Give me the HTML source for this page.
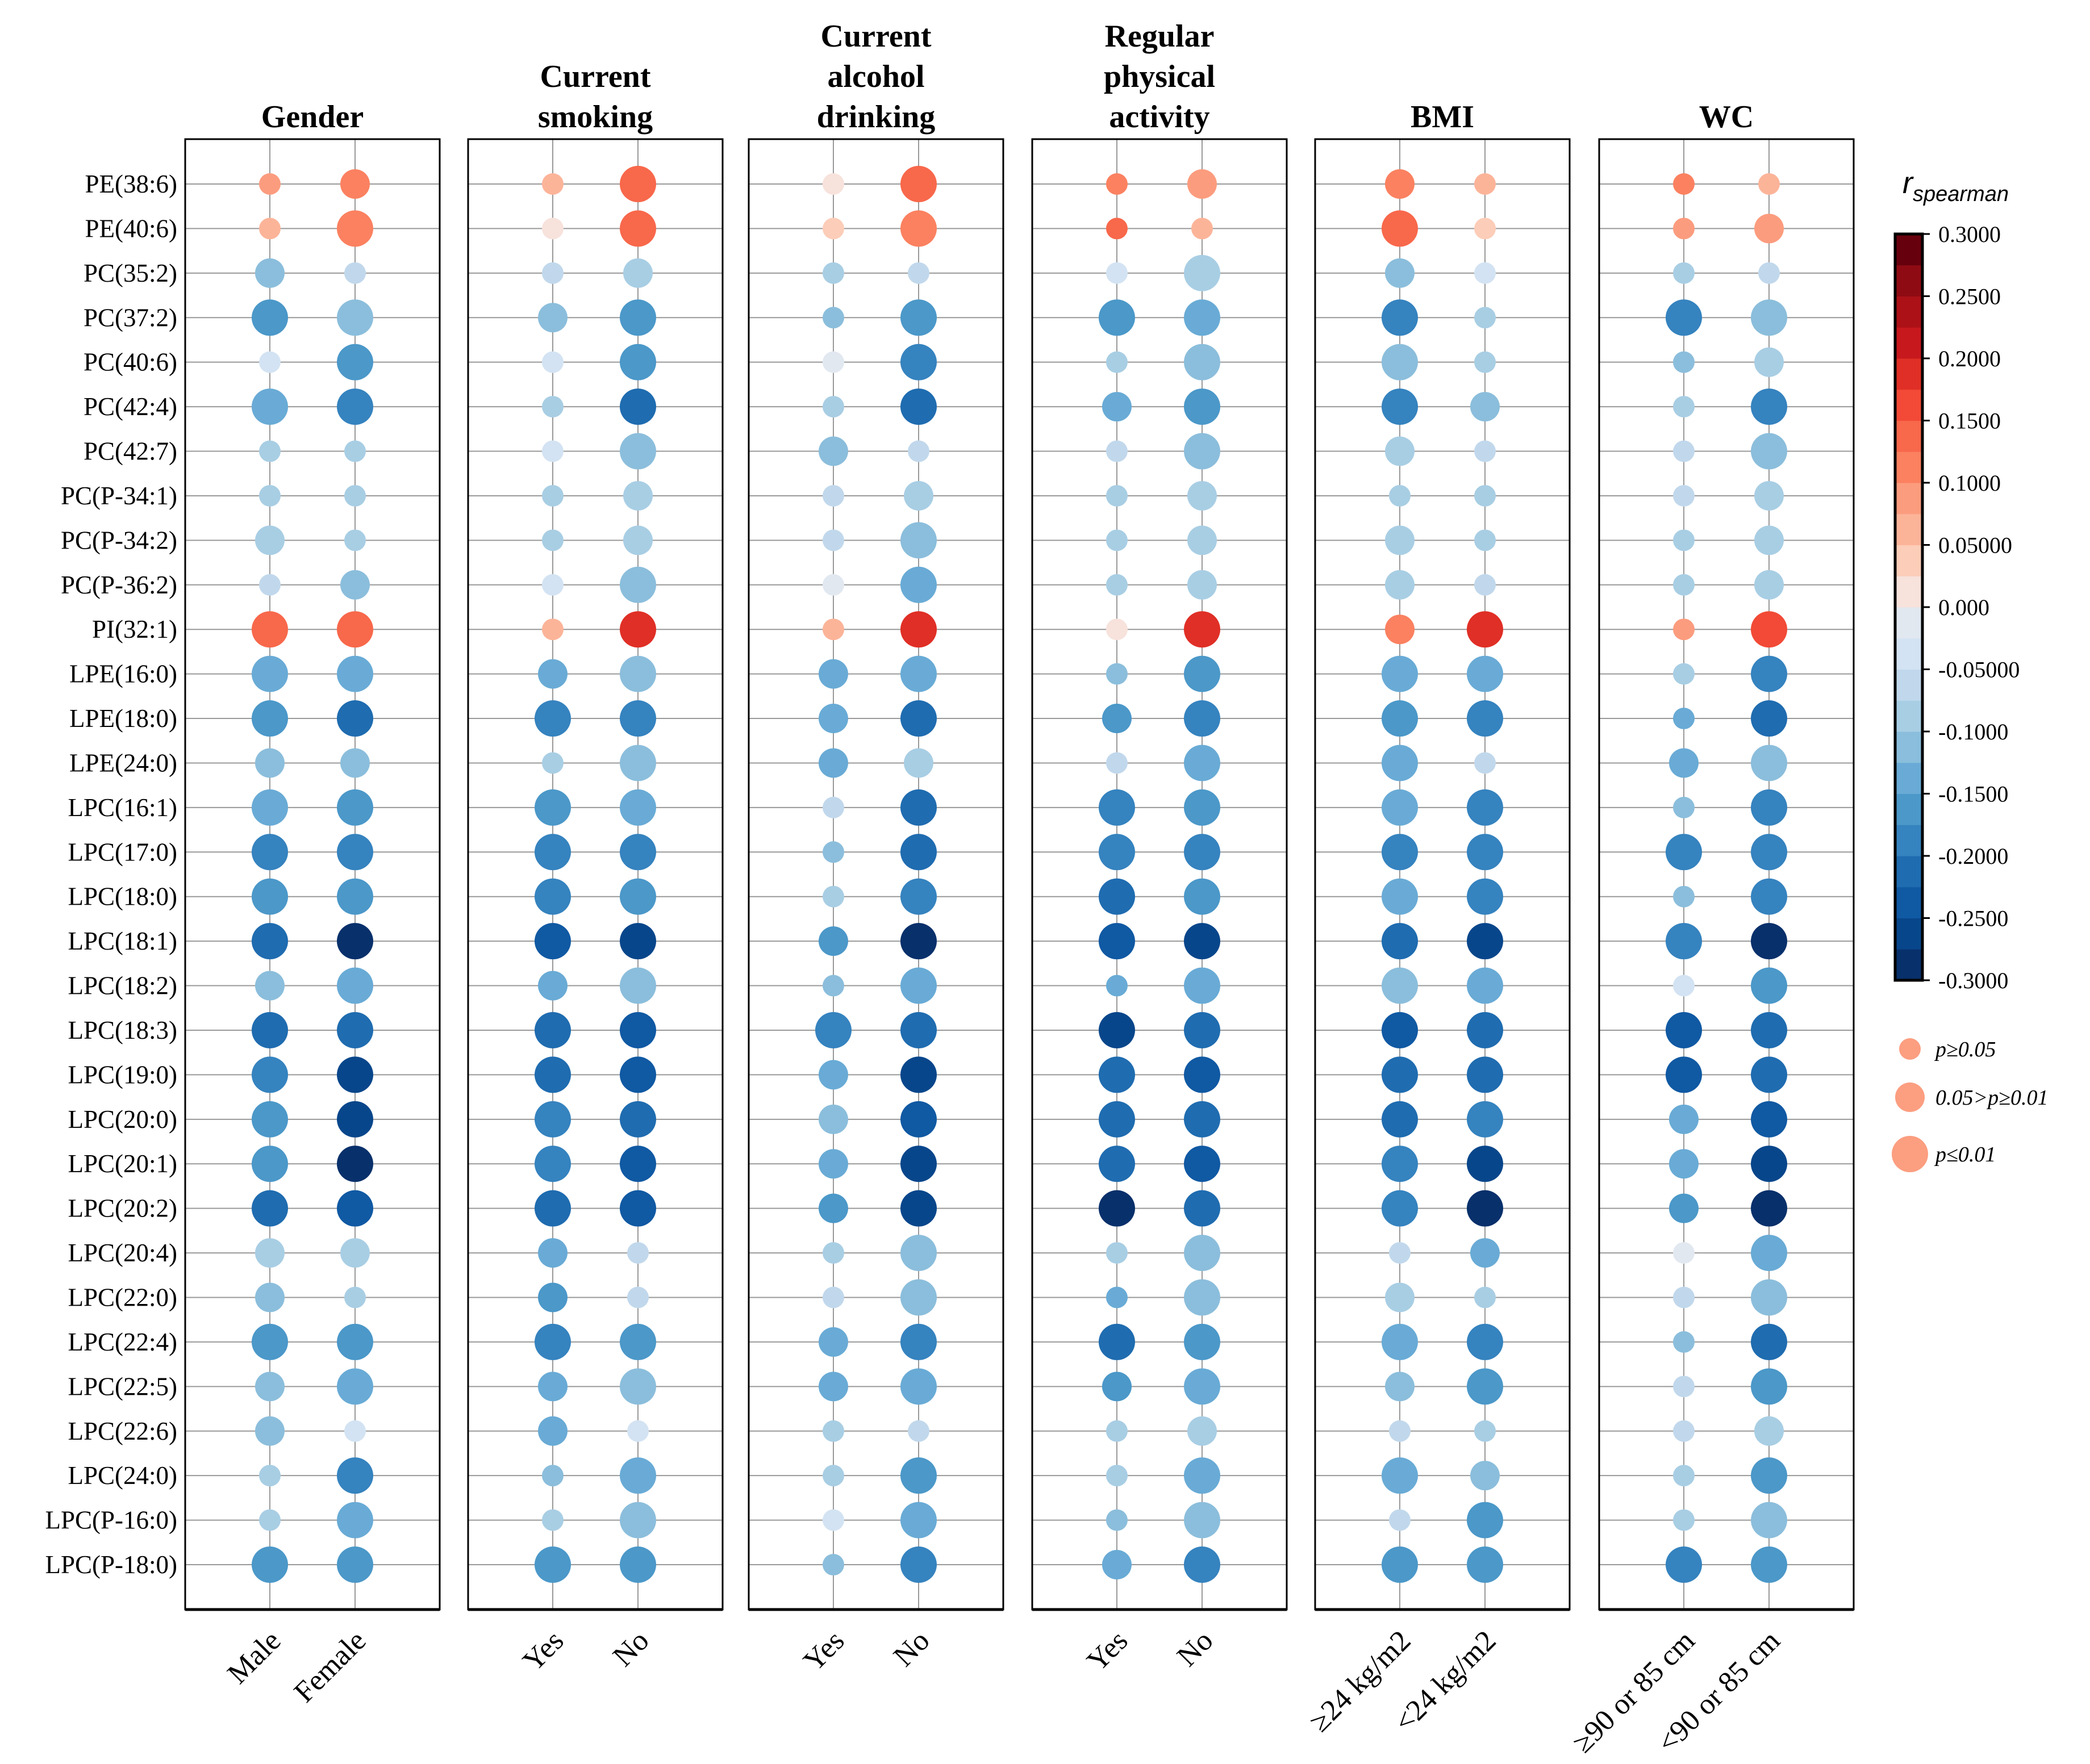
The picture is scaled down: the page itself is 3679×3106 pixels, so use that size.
<!DOCTYPE html>
<html><head><meta charset="utf-8"><style>
html,body{margin:0;padding:0;background:#fff;}
svg{display:block;font-family:"Liberation Serif",serif;}
</style></head><body>
<svg id="chart" width="3679" height="3106" viewBox="0 0 3679 3106" xmlns="http://www.w3.org/2000/svg"></svg>
<script>
const rowLabels = ["PE(38:6)","PE(40:6)","PC(35:2)","PC(37:2)","PC(40:6)","PC(42:4)","PC(42:7)","PC(P-34:1)","PC(P-34:2)","PC(P-36:2)","PI(32:1)","LPE(16:0)","LPE(18:0)","LPE(24:0)","LPC(16:1)","LPC(17:0)","LPC(18:0)","LPC(18:1)","LPC(18:2)","LPC(18:3)","LPC(19:0)","LPC(20:0)","LPC(20:1)","LPC(20:2)","LPC(20:4)","LPC(22:0)","LPC(22:4)","LPC(22:5)","LPC(22:6)","LPC(24:0)","LPC(P-16:0)","LPC(P-18:0)"];
const groupTitles = [["Gender"],["Current","smoking"],["Current","alcohol","drinking"],["Regular","physical","activity"],["BMI"],["WC"]];
const groupCats = [["Male","Female"],["Yes","No"],["Yes","No"],["Yes","No"],["≥24 kg/m2","<24 kg/m2"],["≥90 or 85 cm","<90 or 85 cm"]];
const colorTicks = [0.3,0.25,0.2,0.15,0.1,0.05,0,-0.05,-0.1,-0.15,-0.2,-0.25,-0.3];
const colorTickLabels = ["0.3000","0.2500","0.2000","0.1500","0.1000","0.05000","0.000","-0.05000","-0.1000","-0.1500","-0.2000","-0.2500","-0.3000"];
const pLegendLabels = ["p≥0.05","0.05>p≥0.01","p≤0.01"];

const rGender = [[.09,.11],[.06,.11],[-.11,-.06],[-.16,-.11],[-.04,-.16],[-.14,-.19],[-.09,-.09],[-.09,-.09],[-.09,-.09],[-.06,-.11],[.14,.14],[-.14,-.14],[-.16,-.21],[-.11,-.11],[-.14,-.16],[-.19,-.19],[-.16,-.16],[-.21,-.29],[-.11,-.14],[-.21,-.21],[-.19,-.26],[-.16,-.26],[-.16,-.29],[-.21,-.24],[-.09,-.09],[-.11,-.09],[-.16,-.16],[-.11,-.14],[-.11,-.04],[-.09,-.19],[-.09,-.14],[-.16,-.16]];
const pGender = [[1,2],[1,3],[2,1],[3,3],[1,3],[3,3],[1,1],[1,1],[2,1],[1,2],[3,3],[3,3],[3,3],[2,2],[3,3],[3,3],[3,3],[3,3],[2,3],[3,3],[3,3],[3,3],[3,3],[3,3],[2,2],[2,1],[3,3],[2,3],[2,1],[1,3],[1,3],[3,3]];
const rSmoking = [[.06,.14],[.01,.14],[-.06,-.09],[-.11,-.16],[-.04,-.16],[-.09,-.21],[-.04,-.11],[-.09,-.09],[-.09,-.09],[-.04,-.11],[.06,.19],[-.14,-.11],[-.19,-.19],[-.09,-.11],[-.16,-.14],[-.19,-.19],[-.19,-.16],[-.24,-.26],[-.14,-.11],[-.21,-.24],[-.21,-.24],[-.19,-.21],[-.19,-.24],[-.21,-.24],[-.14,-.06],[-.16,-.06],[-.19,-.16],[-.14,-.11],[-.14,-.04],[-.11,-.14],[-.09,-.11],[-.16,-.16]];
const pSmoking = [[1,3],[1,3],[1,2],[2,3],[1,3],[1,3],[1,3],[1,2],[1,2],[1,3],[1,3],[2,3],[3,3],[1,3],[3,3],[3,3],[3,3],[3,3],[2,3],[3,3],[3,3],[3,3],[3,3],[3,3],[2,1],[2,1],[3,3],[2,3],[2,1],[1,3],[1,3],[3,3]];
const rAlcohol = [[.01,.14],[.04,.11],[-.09,-.06],[-.11,-.16],[-.01,-.19],[-.09,-.21],[-.11,-.06],[-.06,-.09],[-.06,-.11],[-.01,-.14],[.06,.19],[-.14,-.14],[-.14,-.21],[-.14,-.09],[-.06,-.21],[-.11,-.21],[-.09,-.19],[-.16,-.29],[-.11,-.14],[-.19,-.21],[-.14,-.26],[-.11,-.24],[-.14,-.26],[-.16,-.26],[-.09,-.11],[-.06,-.11],[-.14,-.19],[-.14,-.14],[-.09,-.06],[-.09,-.16],[-.04,-.14],[-.11,-.19]];
const pAlcohol = [[1,3],[1,3],[1,1],[1,3],[1,3],[1,3],[2,1],[1,2],[1,3],[1,3],[1,3],[2,3],[2,3],[2,2],[1,3],[1,3],[1,3],[2,3],[1,3],[3,3],[2,3],[2,3],[2,3],[2,3],[1,3],[1,3],[2,3],[2,3],[1,1],[1,3],[1,3],[1,3]];
const rActivity = [[.11,.09],[.14,.06],[-.04,-.09],[-.16,-.14],[-.09,-.11],[-.14,-.16],[-.06,-.11],[-.09,-.09],[-.09,-.09],[-.09,-.09],[.01,.19],[-.11,-.16],[-.16,-.19],[-.06,-.14],[-.19,-.16],[-.19,-.19],[-.21,-.16],[-.24,-.26],[-.14,-.14],[-.26,-.21],[-.21,-.24],[-.21,-.21],[-.21,-.24],[-.29,-.21],[-.09,-.11],[-.14,-.11],[-.21,-.16],[-.16,-.14],[-.09,-.09],[-.09,-.14],[-.11,-.11],[-.14,-.19]];
const pActivity = [[1,2],[1,1],[1,3],[3,3],[1,3],[2,3],[1,3],[1,2],[1,2],[1,2],[1,3],[1,3],[2,3],[1,3],[3,3],[3,3],[3,3],[3,3],[1,3],[3,3],[3,3],[3,3],[3,3],[3,3],[1,3],[1,3],[3,3],[2,3],[1,2],[1,3],[1,3],[2,3]];
const rBMI = [[.11,.06],[.14,.04],[-.11,-.04],[-.19,-.09],[-.11,-.09],[-.19,-.11],[-.09,-.06],[-.09,-.09],[-.09,-.09],[-.09,-.06],[.11,.19],[-.14,-.14],[-.16,-.19],[-.14,-.06],[-.14,-.19],[-.19,-.19],[-.14,-.19],[-.21,-.26],[-.11,-.14],[-.24,-.21],[-.21,-.21],[-.21,-.19],[-.19,-.26],[-.19,-.29],[-.06,-.14],[-.09,-.09],[-.14,-.19],[-.11,-.16],[-.06,-.09],[-.14,-.11],[-.06,-.16],[-.16,-.16]];
const pBMI = [[2,1],[3,1],[2,1],[3,1],[3,1],[3,2],[2,1],[1,1],[2,1],[2,1],[2,3],[3,3],[3,3],[3,1],[3,3],[3,3],[3,3],[3,3],[3,3],[3,3],[3,3],[3,3],[3,3],[3,3],[1,2],[2,1],[3,3],[2,3],[1,1],[3,2],[1,3],[3,3]];
const rWC = [[.11,.06],[.09,.09],[-.09,-.06],[-.19,-.11],[-.11,-.09],[-.09,-.19],[-.06,-.11],[-.06,-.09],[-.09,-.09],[-.09,-.09],[.09,.16],[-.09,-.19],[-.14,-.21],[-.14,-.11],[-.11,-.19],[-.19,-.19],[-.11,-.19],[-.19,-.29],[-.04,-.16],[-.24,-.21],[-.24,-.21],[-.14,-.24],[-.14,-.26],[-.16,-.29],[-.01,-.14],[-.06,-.11],[-.11,-.21],[-.06,-.16],[-.06,-.09],[-.09,-.16],[-.09,-.11],[-.19,-.16]];
const pWC = [[1,1],[1,2],[1,1],[3,3],[1,2],[1,3],[1,3],[1,2],[1,2],[1,2],[1,3],[1,3],[1,3],[2,3],[1,3],[3,3],[1,3],[3,3],[1,3],[3,3],[3,3],[2,3],[2,3],[2,3],[1,3],[1,3],[1,3],[1,3],[1,2],[1,3],[1,3],[3,3]];

const rGroups = [rGender,rSmoking,rAlcohol,rActivity,rBMI,rWC];
const pGroups = [pGender,pSmoking,pAlcohol,pActivity,pBMI,pWC];

const palette = ["#08306b","#08468b","#1059a3","#1f6cb0","#3583bf","#4b98c9","#69abd6","#8bbedc","#a8cee4","#c1d8ec","#d3e3f3","#e2e8f0","#f7e2dc","#fccdb8","#fcb499","#fc9c7e","#fb8160","#f8684b","#f24a36","#e02f26","#c7181e","#ac1117","#8f0b14","#67000d"];
const NS = "http://www.w3.org/2000/svg";
const svg = document.getElementById("chart");
function mk(tag, attrs, parent){const e=document.createElementNS(NS,tag);for(const k in attrs)e.setAttribute(k,attrs[k]);(parent||svg).appendChild(e);return e;}
function colorOf(r){let k=Math.floor((r+0.3)/0.025);k=Math.max(0,Math.min(23,k));return palette[k];}
const sizeR = [0,19,26,32];
const rowY0 = 324, rowStep = 78.42;
function yScale(i){return rowY0 + i*rowStep;}
const panelLefts = [326,824,1318,1817,2315,2815];
const panelW = 448, panelTop = 245, panelBottom = 2834;
function xScale(g,j){return panelLefts[g] + 149 + j*150;}

rowLabels.forEach((lab,i)=>{
  const t = mk("text",{x:312,y:yScale(i)+15,"text-anchor":"end","font-size":45,fill:"#000"});
  
  
  t.textContent = lab;
});

for(let g=0; g<6; g++){
  const L = panelLefts[g];
  const grp = mk("g",{});
  
  
  rowLabels.forEach((_,i)=>{
    const l = mk("line",{x1:L,x2:L+panelW,y1:yScale(i),y2:yScale(i),stroke:"#999","stroke-width":2},grp);
    
    
  });
  for(let j=0;j<2;j++){
    const l = mk("line",{x1:xScale(g,j),x2:xScale(g,j),y1:panelTop,y2:panelBottom,stroke:"#999","stroke-width":2},grp);
    
    
  }
  rGroups[g].forEach((pair,i)=>{
    for(let j=0;j<2;j++){
      const c = mk("ellipse",{cx:xScale(g,j),cy:yScale(i),rx:sizeR[pGroups[g][i][j]],ry:sizeR[pGroups[g][i][j]],fill:colorOf(pair[j])},grp);
      
      
    }
  });
  const fr = mk("rect",{x:L,y:panelTop,width:panelW,height:panelBottom-panelTop,fill:"none",stroke:"#000","stroke-width":3},grp);
  
  
  const bl = mk("line",{x1:L,x2:L+panelW,y1:panelBottom,y2:panelBottom,stroke:"#000","stroke-width":5},grp);
  
  
  const lines = groupTitles[g];
  const cx = L + panelW/2;
  lines.forEach((ln,k)=>{
    const y = 224 - (lines.length-1-k)*71;
    const t = mk("text",{x:cx,y:y,"text-anchor":"middle","font-size":56,"font-weight":"bold",fill:"#000"});
    
    
    t.textContent = ln;
  });
  for(let j=0;j<2;j++){
    const ax = xScale(g,j)+22, ay = 2892;
    const t = mk("text",{x:ax,y:ay,"text-anchor":"end","font-size":52,fill:"#000",transform:`rotate(-45 ${ax} ${ay})`});
    
    
    t.textContent = groupCats[g][j];
  }
}

const cbX = 3336, cbW = 48, cbTop = 412, cbBot = 1726;
function cbY(v){return cbTop + (0.3 - v)/0.6*(cbBot-cbTop);}
const cb = mk("g",{});


palette.forEach((col,k)=>{
  const v0 = -0.3 + k*0.025;
  const r = mk("rect",{x:cbX,y:cbY(v0+0.025),width:cbW,height:cbY(v0)-cbY(v0+0.025)+0.5,fill:col},cb);
  
  
});
const cbf = mk("rect",{x:cbX,y:cbTop,width:cbW,height:cbBot-cbTop,fill:"none",stroke:"#000","stroke-width":5},cb);


colorTicks.forEach((v,k)=>{
  const l = mk("line",{x1:cbX+cbW,x2:cbX+cbW+13,y1:cbY(v),y2:cbY(v),stroke:"#000","stroke-width":3},cb);
  
  
  const t = mk("text",{x:3412,y:cbY(v)+14,"font-size":40,fill:"#000"},cb);
  
  
  t.textContent = colorTickLabels[k];
});
const ct = mk("text",{x:3349,y:340,"font-family":"Liberation Sans, sans-serif","font-style":"italic","font-size":54,fill:"#000"});


ct.innerHTML = 'r<tspan dy="14" font-size="38">spearman</tspan>';

const legY = [1847,1932,2032];
pLegendLabels.forEach((lab,k)=>{
  const c = mk("circle",{cx:3362,cy:legY[k],r:sizeR[k+1],fill:"#fc9e80"});
  
  
  const t = mk("text",{x:3407,y:legY[k]+13,"font-size":38,"font-style":"italic",fill:"#000"});
  
  
  t.textContent = lab;
});
</script>
</body></html>
